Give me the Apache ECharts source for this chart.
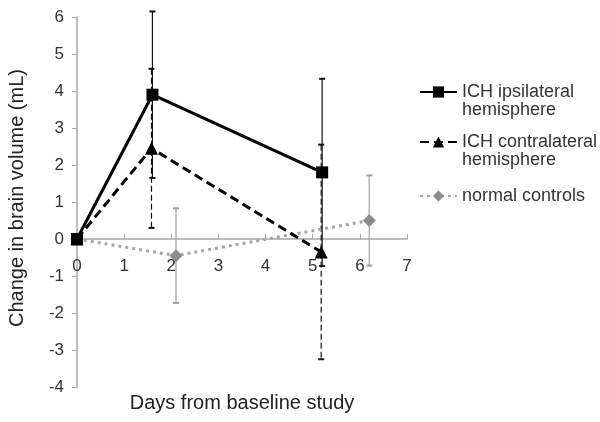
<!DOCTYPE html>
<html>
<head>
<meta charset="utf-8">
<script src="https://cdn.jsdelivr.net/npm/echarts@6/dist/echarts.min.js"></script>
<style>html,body{margin:0;padding:0;background:#fff}#c{width:600px;height:422px}</style>
</head>
<body>
<div id="c"></div>
<script>
// Data
var seriesNames = ['ICH ipsilateral hemisphere', 'ICH contralateral hemisphere', 'normal controls'];
var ipsiDays = [0, 1.6, 5.2];
var ipsiVals = [0, 3.9, 1.8];
var ipsiErr  = [0, 2.25, 2.53];
var contraDays = [0, 1.58, 5.18];
var contraVals = [0, 2.45, -0.35];
var contraErr  = [0, 2.15, 2.9];
var normDays = [0, 2.1, 6.2];
var normVals = [0, -0.45, 0.5];
var normErr  = [0, 1.28, 1.22];
var xTicks = [0, 1, 2, 3, 4, 5, 6, 7];
var yTicks = [-4, -3, -2, -1, 0, 1, 2, 3, 4, 5, 6];

function pts(xs, ys) { return xs.map(function (x, i) { return [x, ys[i]]; }); }
function errPts(xs, ys, es) {
  var out = [];
  xs.forEach(function (x, i) { if (es[i] > 0) out.push([x, ys[i], es[i]]); });
  return out;
}
function errSeries(data, color, dashed) {
  return {
    type: 'custom', silent: true, z: 1,
    encode: { x: 0, y: 1 },
    data: data,
    renderItem: function (params, api) {
      var x = api.value(0), y = api.value(1), e = api.value(2);
      var top = api.coord([x, y + e]);
      var bot = api.coord([x, y - e]);
      var cw = 3;
      var st = { stroke: color, lineWidth: 1.2, lineDash: dashed ? [6, 3] : null };
      var cap = { stroke: color, lineWidth: 2 };
      return {
        type: 'group',
        children: [
          { type: 'line', shape: { x1: top[0], y1: top[1], x2: bot[0], y2: bot[1] }, style: st },
          { type: 'line', shape: { x1: top[0] - cw, y1: top[1], x2: top[0] + cw, y2: top[1] }, style: cap },
          { type: 'line', shape: { x1: bot[0] - cw, y1: bot[1], x2: bot[0] + cw, y2: bot[1] }, style: cap }
        ]
      };
    }
  };
}

var chart = echarts.init(document.getElementById('c'), null, { renderer: 'canvas' });
var font = 'Liberation Sans, Arial, sans-serif';
function legendCfg(name, top) {
  return {
    orient: 'vertical', left: 419, top: top, padding: 0,
    itemWidth: 37, itemHeight: 14, itemGap: 0,
    data: [{ name: name }],
    formatter: function (n) {
      if (n === seriesNames[0]) return '\nICH ipsilateral\nhemisphere';
      if (n === seriesNames[1]) return '\nICH contralateral\nhemisphere';
      return n;
    },
    textStyle: { fontFamily: font, fontSize: 18, color: '#333', lineHeight: 18 }
  };
}

chart.setOption({
  animation: false,
  backgroundColor: '#fff',
  grid: { left: 77, right: 193, top: 17, bottom: 35, containLabel: false },
  legend: [
    legendCfg(seriesNames[0], 65),
    legendCfg(seriesNames[1], 115),
    legendCfg(seriesNames[2], 187)
  ],
  graphic: [
    { type: 'text', x: 242, y: 403, style: { text: 'Days from baseline study', font: '20px ' + font, fill: '#222', textAlign: 'center', textVerticalAlign: 'middle' } },
    { type: 'text', x: 17, y: 198, rotation: Math.PI / 2, style: { text: 'Change in brain volume (mL)', font: '20px ' + font, fill: '#222', textAlign: 'center', textVerticalAlign: 'middle' } }
  ],
  xAxis: {
    type: 'value', min: xTicks[0], max: xTicks[xTicks.length - 1], interval: 1,
    offset: -148,
    axisLine: { onZero: false, lineStyle: { color: '#a6a6a6', width: 1.5 } },
    axisTick: { show: true, inside: true, length: 5, lineStyle: { color: '#a6a6a6' } },
    axisLabel: { fontFamily: font, fontSize: 17, color: '#333', margin: 19 },
    splitLine: { show: false }
  },
  yAxis: {
    type: 'value', min: yTicks[0], max: yTicks[yTicks.length - 1], interval: 1,
    axisLine: { show: true, onZero: false, lineStyle: { color: '#a6a6a6', width: 1.5 } },
    axisTick: { show: true, inside: false, length: 5, lineStyle: { color: '#a6a6a6' } },
    axisLabel: { fontFamily: font, fontSize: 17, color: '#333', margin: 13 },
    splitLine: { show: false }
  },
  series: [
    errSeries(errPts(normDays, normVals, normErr), '#a0a0a0', false),
    errSeries(errPts(contraDays, contraVals, contraErr), '#111', true),
    errSeries(errPts(ipsiDays, ipsiVals, ipsiErr), '#111', false),
    {
      name: seriesNames[2], type: 'line', z: 3, data: pts(normDays, normVals),
      symbol: 'diamond', symbolSize: 13,
      itemStyle: { color: '#8c8c8c' },
      lineStyle: { color: '#a6a6a6', width: 3, type: [3, 4] }
    },
    {
      name: seriesNames[1], type: 'line', z: 4, data: pts(contraDays, contraVals),
      symbol: 'triangle', symbolSize: 13,
      itemStyle: { color: '#000' },
      lineStyle: { color: '#000', width: 3, type: [9, 5] }
    },
    {
      name: seriesNames[0], type: 'line', z: 5, data: pts(ipsiDays, ipsiVals),
      symbol: 'rect', symbolSize: 12,
      itemStyle: { color: '#000' },
      lineStyle: { color: '#000', width: 3 }
    }
  ]
});
</script>
</body>
</html>
